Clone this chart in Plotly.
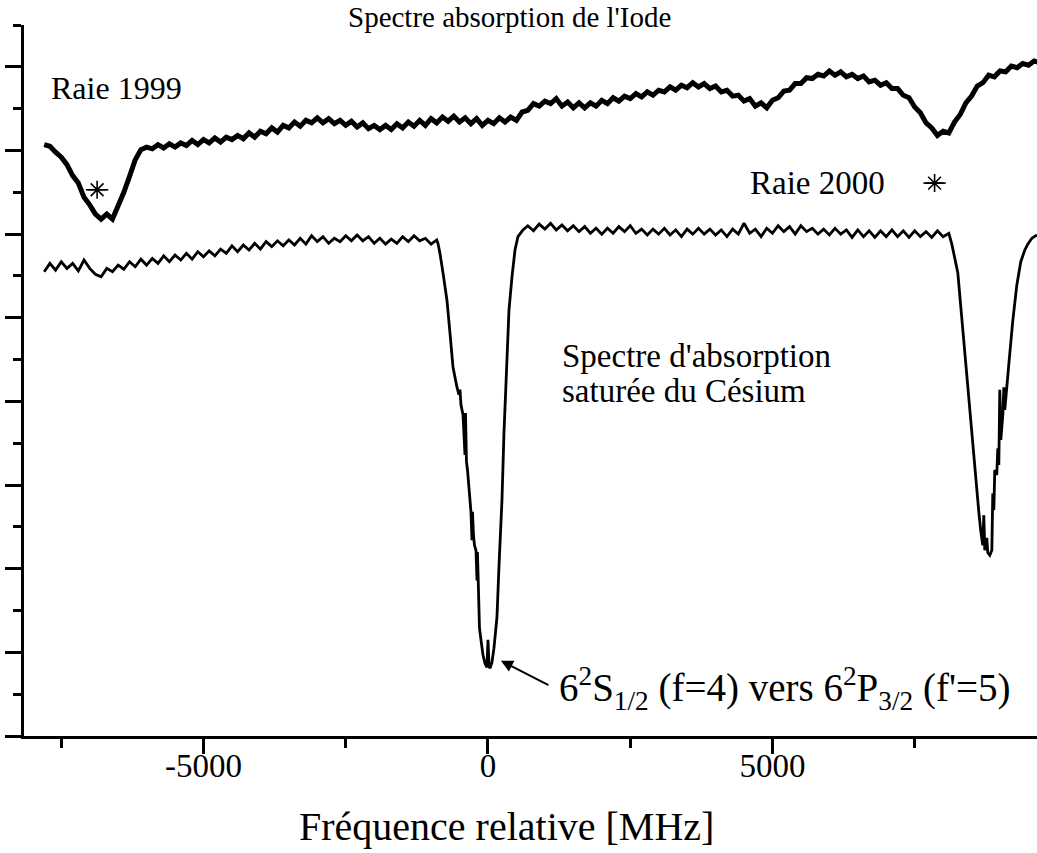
import plotly.graph_objects as go

SERIF = "Liberation Serif"

# ---------------------------------------------------------------------------
# Iodine absorption spectrum (upper trace), one sample every 100 MHz
# ---------------------------------------------------------------------------
iode_freq = list(range(-7800, 9701, 100))
iode_signal = [
    7.07, 7.05, 6.98, 6.92, 6.83, 6.70, 6.61, 6.44, 6.35, 6.24,
    6.18, 6.24, 6.18, 6.33, 6.50, 6.69, 6.89, 7.01, 7.04, 7.02,
    7.07, 7.03, 7.08, 7.04, 7.09, 7.06, 7.12, 7.07, 7.13, 7.09,
    7.15, 7.10, 7.16, 7.13, 7.18, 7.14, 7.21, 7.16, 7.23, 7.20,
    7.27, 7.22, 7.30, 7.27, 7.34, 7.29, 7.36, 7.33, 7.39, 7.33,
    7.38, 7.32, 7.36, 7.30, 7.35, 7.28, 7.33, 7.26, 7.30, 7.25,
    7.30, 7.25, 7.32, 7.27, 7.34, 7.29, 7.36, 7.30, 7.38, 7.33,
    7.40, 7.35, 7.41, 7.34, 7.39, 7.32, 7.38, 7.30, 7.36, 7.32,
    7.39, 7.34, 7.40, 7.36, 7.46, 7.48, 7.56, 7.53, 7.59, 7.56,
    7.62, 7.53, 7.58, 7.51, 7.57, 7.51, 7.57, 7.53, 7.60, 7.56,
    7.63, 7.59, 7.65, 7.62, 7.68, 7.64, 7.70, 7.66, 7.72, 7.70,
    7.76, 7.72, 7.78, 7.75, 7.81, 7.76, 7.80, 7.74, 7.77, 7.70,
    7.72, 7.65, 7.66, 7.59, 7.62, 7.53, 7.57, 7.51, 7.60, 7.63,
    7.71, 7.72, 7.80, 7.80, 7.87, 7.86, 7.91, 7.89, 7.95, 7.90,
    7.94, 7.88, 7.91, 7.86, 7.89, 7.82, 7.84, 7.78, 7.81, 7.74,
    7.74, 7.66, 7.63, 7.52, 7.45, 7.33, 7.27, 7.18, 7.23, 7.21,
    7.34, 7.43, 7.57, 7.65, 7.77, 7.81, 7.90, 7.88, 7.95, 7.94,
    8.01, 7.99, 8.04, 8.02, 8.07, 8.05,
]

# ---------------------------------------------------------------------------
# Caesium saturated-absorption spectrum (lower trace)
# ---------------------------------------------------------------------------
# flat part before the F=4 line
cs_left_freq = list(range(-7800, -899, 100))
cs_left_signal = [
    5.55, 5.65, 5.57, 5.67, 5.59, 5.65, 5.56, 5.69, 5.59, 5.52,
    5.49, 5.59, 5.55, 5.63, 5.58, 5.67, 5.61, 5.70, 5.63, 5.71,
    5.65, 5.74, 5.67, 5.75, 5.69, 5.77, 5.70, 5.79, 5.73, 5.80,
    5.74, 5.82, 5.77, 5.86, 5.79, 5.87, 5.81, 5.89, 5.82, 5.91,
    5.85, 5.92, 5.86, 5.93, 5.87, 5.95, 5.88, 5.98, 5.91, 5.97,
    5.89, 5.95, 5.91, 5.98, 5.92, 5.99, 5.92, 5.97, 5.89, 5.95,
    5.88, 5.94, 5.89, 5.97, 5.91, 5.98, 5.92, 5.95, 5.88, 5.93,
]

# Doppler profile of 6S1/2 (f=4) with its saturated-absorption peaks
cs_f4_freq = [
    -879, -844, -791, -721, -668, -615, -545, -510, -492, -475,
    -439, -422, -404, -395, -378, -360, -334, -316, -299, -281,
    -272, -255, -237, -211, -193, -185, -167, -149, -123, -88,
    -53, -18, 0, 18, 35, 70, 105, 158, 193, 246,
    281, 334, 369, 422, 475, 527, 615,
]
cs_f4_signal = [
    5.89, 5.77, 5.54, 5.21, 4.82, 4.41, 4.17, 4.08, 4.14, 3.96,
    3.84, 3.54, 3.36, 3.86, 3.28, 3.18, 2.94, 2.76, 2.68, 2.34,
    2.68, 2.40, 2.28, 2.22, 1.86, 2.20, 1.51, 1.29, 1.15, 0.97,
    0.87, 0.82, 1.15, 0.85, 0.81, 0.88, 1.05, 1.42, 2.02, 2.82,
    3.62, 4.41, 5.09, 5.49, 5.81, 5.97, 6.05,
]

# flat part between the two lines
cs_mid_freq = list(range(700, 8101, 100))
cs_mid_signal = [
    6.10, 6.04, 6.12, 6.06, 6.13, 6.05, 6.11, 6.04, 6.10, 6.03,
    6.09, 6.01, 6.07, 6.00, 6.07, 6.01, 6.09, 6.03, 6.10, 6.01,
    6.06, 5.99, 6.06, 6.00, 6.07, 5.99, 6.05, 5.97, 6.06, 6.00,
    6.07, 6.00, 6.06, 5.99, 6.05, 5.97, 6.06, 6.00, 6.13, 6.01,
    6.06, 5.97, 6.07, 6.01, 6.10, 6.03, 6.09, 6.00, 6.10, 6.03,
    6.07, 6.00, 6.06, 5.99, 6.07, 6.00, 6.05, 5.96, 6.05, 5.97,
    6.04, 5.96, 6.04, 5.97, 6.05, 5.97, 6.04, 5.96, 6.04, 5.97,
    6.03, 5.96, 6.04, 5.97, 6.01,
]

# Doppler profile of 6S1/2 (f=3)
cs_f3_freq = [
    8153, 8258, 8363, 8451, 8557, 8627, 8662, 8697, 8715, 8732,
    8768, 8785, 8820, 8856, 8873, 8891, 8908, 8943, 8961, 8979,
    8996, 9014, 9049, 9067, 9084, 9119, 9154, 9225, 9295, 9365,
    9436, 9488, 9560, 9649,
]
cs_f3_signal = [
    5.88, 5.54, 4.71, 4.04, 3.13, 2.68, 2.45, 2.28, 2.64, 2.22,
    2.37, 2.19, 2.16, 2.22, 2.90, 2.70, 3.18, 3.12, 3.44, 3.24,
    4.14, 3.54, 3.84, 4.17, 3.90, 4.21, 4.44, 4.97, 5.39, 5.67,
    5.81, 5.88, 5.95, 5.99,
]

cs_freq = cs_left_freq + cs_f4_freq + cs_mid_freq + cs_f3_freq
cs_signal = cs_left_signal + cs_f4_signal + cs_mid_signal + cs_f3_signal

# iodine reference lines marked on the upper trace
raie_freq = [-6870, 7850]
raie_signal = [6.53, 6.61]

x_tick_vals = [-5000, 0, 5000]
x_tick_text = ["-5000", "0", "5000"]
x_minor_vals = [-7500, -2500, 2500, 7500]
y_major_vals = [0, 1, 2, 3, 4, 5, 6, 7, 8]
y_minor_vals = [0.5, 1.5, 2.5, 3.5, 4.5, 5.5, 6.5, 7.5, 8.5]

fig = go.Figure()

fig.add_trace(go.Scatter(
    x=iode_freq, y=iode_signal, mode="lines",
    line=dict(color="black", width=5), hoverinfo="skip",
))
fig.add_trace(go.Scatter(
    x=cs_freq, y=cs_signal, mode="lines",
    line=dict(color="black", width=2.8), hoverinfo="skip",
))
fig.add_trace(go.Scatter(
    x=raie_freq, y=raie_signal, mode="markers",
    marker=dict(symbol="asterisk-open", size=15, color="black",
                line=dict(color="black", width=1.6)),
    hoverinfo="skip",
))
fig.add_trace(go.Scatter(
    x=raie_freq, y=raie_signal, mode="markers",
    marker=dict(symbol="line-ew-open", size=16, color="black",
                line=dict(color="black", width=1.6)),
    hoverinfo="skip",
))

text_font = dict(family=SERIF, color="black")

annotations = [
    dict(x=0.479, y=1.011, xref="paper", yref="paper",
         text="Spectre absorption de l'Iode",
         font=dict(size=29, **text_font)),
    dict(x=-6538, y=7.75, text="Raie 1999", font=dict(size=32, **text_font)),
    dict(x=5800, y=6.61, text="Raie 2000", font=dict(size=33, **text_font)),
    dict(x=1265, y=4.54, text="Spectre d'absorption", xanchor="left",
         font=dict(size=33, **text_font)),
    dict(x=1265, y=4.12, text="saturée du Césium", xanchor="left",
         font=dict(size=33, **text_font)),
    dict(x=1213, y=0.57, xanchor="left",
         text="6<sup>2</sup>S<sub>1/2</sub> (f=4) vers "
              "6<sup>2</sup>P<sub>3/2</sub> (f'=5)",
         font=dict(size=39, **text_font)),
    dict(x=228, y=0.90, ax=1090, ay=0.60, axref="x", ayref="y", text="",
         showarrow=True, arrowhead=2, arrowsize=1.2, arrowwidth=2,
         arrowcolor="black"),
    dict(x=0.476, y=-0.1266, xref="paper", yref="paper",
         text="Fréquence relative [MHz]", font=dict(size=40, **text_font)),
]
for a in annotations:
    a.setdefault("showarrow", False)
    a.setdefault("xref", "x")
    a.setdefault("yref", "y")
    a.setdefault("yanchor", "middle")

fig.update_layout(
    width=1037, height=853,
    margin=dict(l=24, r=0, t=25, b=117),
    paper_bgcolor="white", plot_bgcolor="white",
    showlegend=False,
    annotations=annotations,
    xaxis=dict(
        range=[-8155, 9650],
        tickmode="array", tickvals=x_tick_vals, ticktext=x_tick_text,
        ticks="outside", ticklen=15, tickwidth=3, tickcolor="black",
        ticklabelstandoff=-17,
        minor=dict(tickmode="array", tickvals=x_minor_vals, ticks="outside",
                   ticklen=9, tickwidth=3, tickcolor="black"),
        showline=True, linewidth=3, linecolor="black",
        showgrid=False, zeroline=False,
        tickfont=dict(family=SERIF, size=33, color="black"),
    ),
    yaxis=dict(
        range=[0, 8.5],
        tickmode="array", tickvals=y_major_vals,
        ticks="outside", ticklen=16, tickwidth=3, tickcolor="black",
        minor=dict(tickmode="array", tickvals=y_minor_vals, ticks="outside",
                   ticklen=8, tickwidth=3, tickcolor="black"),
        showticklabels=False,
        showline=True, linewidth=3, linecolor="black",
        showgrid=False, zeroline=False,
    ),
)

fig.write_html("out.html")
